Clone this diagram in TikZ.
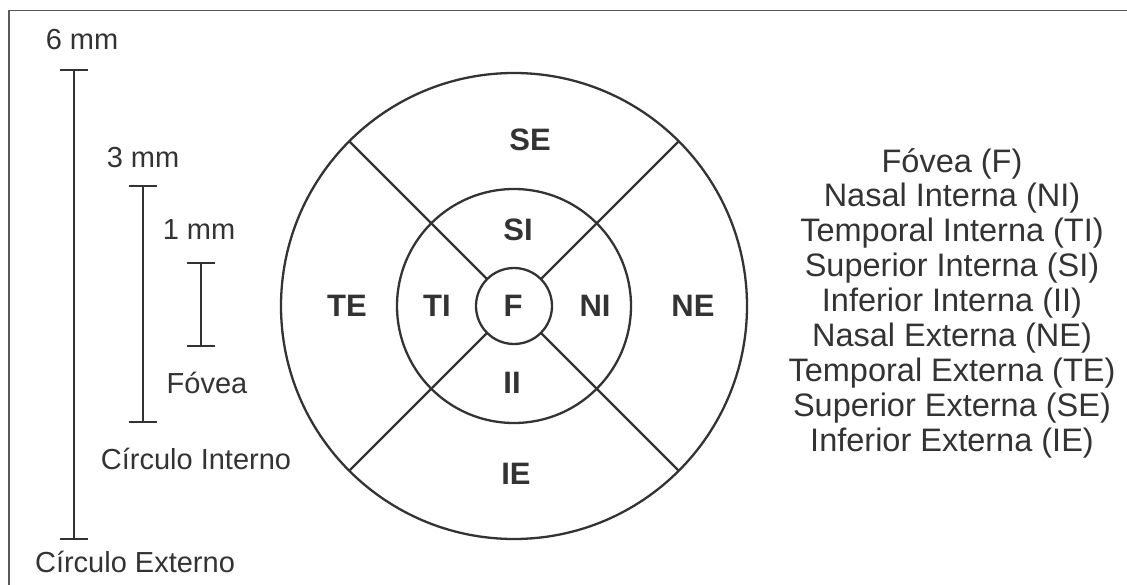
\documentclass[tikz,border=0pt]{standalone}
\usepackage{fontspec}
\setmainfont{Liberation Sans}
\usetikzlibrary{calc}
\definecolor{ink}{HTML}{333333}
\definecolor{frame}{HTML}{5A5A5A}
\tikzset{
  ln/.style={draw=ink, line width=2.3pt},
  bar/.style={draw=ink, line width=2.1pt},
  zone/.style={text=ink, font=\fontsize{31}{31}\selectfont\bfseries, inner sep=0pt},
  lbl/.style={text=ink, font=\fontsize{29}{29}\selectfont, inner sep=0pt},
  legend/.style={text=ink, font=\fontsize{32.5}{34.9}\selectfont, align=center, inner sep=0pt}
}
\begin{document}
\begin{tikzpicture}[x=1pt,y=-1pt]
\useasboundingbox (0,0) rectangle (1127,585);
\clip (0,0) rectangle (1127,585);
\draw[frame, line width=1.6pt] (9,10.5) rectangle (1140,600);

% circles
\coordinate (c) at (514,306);
\draw[ln] (c) circle[radius=233];
\draw[ln] (c) circle[radius=117];
\draw[ln] (c) circle[radius=38];
\foreach \a in {45,135,225,315}
  \draw[ln] ($(c)+(\a:38)$) -- ($(c)+(\a:233)$);

% zone labels
\node[zone] (SE) at (530,140) {SE};
\node[zone] (SI) at (518,230) {SI};
\node[zone] (TE) at (347,306) {TE};
\node[zone] (TI) at (437,306) {TI};
\node[zone] (F)  at (513,306) {F};
\node[zone] (NI) at (595,306) {NI};
\node[zone] (NE) at (693,306) {NE};
\node[zone] (II) at (512,383) {II};
\node[zone] (IE) at (516,474) {IE};

% scale bars
\node[lbl] (m6) at (82,40) {6 mm};
\coordinate (b6t) at (74,70);
\coordinate (b6b) at (74,539);
\draw[bar] (b6t) -- (b6b);
\draw[bar] ($(b6t)+(-14,0)$) -- ($(b6t)+(14,0)$);
\draw[bar] ($(b6b)+(-14,0)$) -- ($(b6b)+(14,0)$);
\node[lbl] (ce) at (135,562) {Círculo Externo};

\node[lbl] (m3) at (143,158) {3 mm};
\coordinate (b3t) at (143,186);
\coordinate (b3b) at (143,422);
\draw[bar] (b3t) -- (b3b);
\draw[bar] ($(b3t)+(-14,0)$) -- ($(b3t)+(14,0)$);
\draw[bar] ($(b3b)+(-14,0)$) -- ($(b3b)+(14,0)$);
\node[lbl] (ci) at (196,459) {Círculo Interno};

\node[lbl] (m1) at (199,230) {1 mm};
\coordinate (b1t) at (201,263);
\coordinate (b1b) at (201,346);
\draw[bar] (b1t) -- (b1b);
\draw[bar] ($(b1t)+(-14,0)$) -- ($(b1t)+(14,0)$);
\draw[bar] ($(b1b)+(-14,0)$) -- ($(b1b)+(14,0)$);
\node[lbl] (fv) at (207,383) {Fóvea};

% legend
\node[legend] (leg) at (952,303) {Fóvea (F)\\Nasal Interna (NI)\\Temporal Interna (TI)\\Superior Interna (SI)\\Inferior Interna (II)\\Nasal Externa (NE)\\Temporal Externa (TE)\\Superior Externa (SE)\\Inferior Externa (IE)};
\end{tikzpicture}
\end{document}
